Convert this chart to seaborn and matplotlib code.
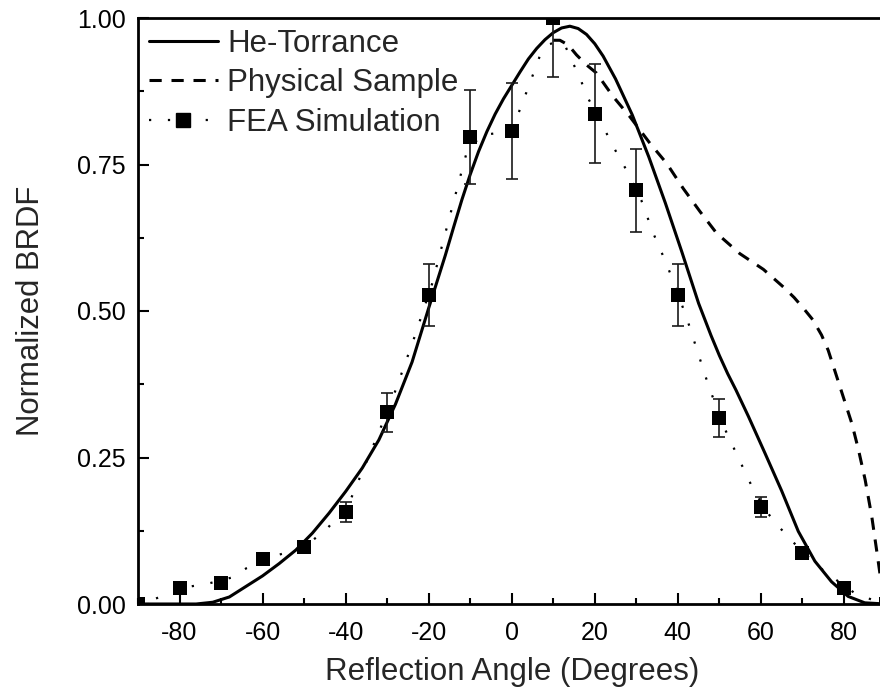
import matplotlib
matplotlib.use('Agg')
import matplotlib.pyplot as plt
from matplotlib.lines import Line2D
from matplotlib.ticker import MultipleLocator, FormatStrFormatter
import seaborn as sns

# He-Torrance model curve
ht_x = [-90, -80, -76, -72, -68, -64, -60, -56, -52, -48, -44, -40, -36, -32, -28, -24,
        -20, -16, -14, -12, -10, -8, -6, -4, -2, 0, 2, 4, 6, 8, 10, 12, 14, 16, 18, 20,
        22, 25, 29, 33, 37, 41, 45, 48, 50, 52, 54, 57, 61, 65, 69, 73, 77, 81, 85, 90]
ht_y = [0.0, 0.0, 0.0, 0.003, 0.012, 0.030, 0.048, 0.069, 0.092, 0.121, 0.155, 0.192,
        0.232, 0.280, 0.341, 0.413, 0.505, 0.595, 0.643, 0.69, 0.733, 0.772, 0.806, 0.836,
        0.862, 0.885, 0.908, 0.93, 0.948, 0.963, 0.975, 0.983, 0.986, 0.982, 0.972, 0.956,
        0.935, 0.896, 0.835, 0.763, 0.684, 0.60, 0.513, 0.458, 0.424, 0.393, 0.365, 0.320,
        0.257, 0.193, 0.124, 0.073, 0.038, 0.013, 0.002, 0.0]

# physical sample measurement (left half lies under the model curve)
ps_x = [10, 11.6, 13.6, 15.6, 18, 20.4, 24.4, 28.4, 33.3, 37.3, 41.3, 45.3, 49.3, 54.9,
        60.6, 65.4, 68, 70.2, 72.5, 74.6, 76.2, 77.8, 79.8, 81.9, 83.5, 85.1, 86.7, 87.9,
        89, 90]
ps_y = [0.962, 0.962, 0.954, 0.937, 0.92, 0.906, 0.866, 0.832, 0.786, 0.752, 0.709, 0.67,
        0.633, 0.598, 0.571, 0.541, 0.523, 0.505, 0.485, 0.459, 0.433, 0.398, 0.354, 0.308,
        0.263, 0.212, 0.149, 0.09, 0.035, 0.0]

# smoothed FEA curve (dotted)
fc_x = [-90, -87.7, -83.6, -77.3, -73, -67.5, -63.9, -57.1, -53.1, -47.9, -44.5, -39,
        -35.8, -32.6, -29, -26.2, -23.4, -19.2, -16.1, -12.9, -10.8, -7.3, -3.1, 1.0,
        3.9, 6.7, 9, 11, 12.9, 14.6, 16.4, 17.8, 21.6, 25.4, 27.5, 31.2, 34.0, 37.3, 40,
        42.5, 45, 47.5, 51.3, 54.8, 58.4, 62.0, 64.7, 67.4, 72.2, 75.4, 82.7, 86.5, 90]
fc_y = [0.0, 0.004, 0.015, 0.03, 0.035, 0.045, 0.061, 0.082, 0.09, 0.109, 0.128, 0.175,
        0.229, 0.283, 0.345, 0.40, 0.456, 0.546, 0.63, 0.716, 0.772, 0.80, 0.804, 0.826,
        0.88, 0.934, 0.955, 0.96, 0.952, 0.925, 0.899, 0.871, 0.82, 0.768, 0.742, 0.689,
        0.634, 0.58, 0.53, 0.48, 0.425, 0.37, 0.299, 0.246, 0.192, 0.152, 0.129, 0.108,
        0.075, 0.055, 0.018, 0.008, 0.0]

# FEA simulation points with error bars
fea_x = [-90, -80, -70, -60, -50, -40, -30, -20, -10, 0, 10, 20, 30, 40, 50, 60, 70, 80, 90]
fea_y = [0.0, 0.028, 0.036, 0.077, 0.098, 0.157, 0.327, 0.527, 0.797, 0.807, 1.0, 0.837,
         0.706, 0.527, 0.317, 0.166, 0.087, 0.028, 0.0]
fea_err = [0.0, 0.0, 0.0, 0.0, 0.0, 0.017, 0.033, 0.053, 0.08, 0.082, 0.10, 0.084,
           0.071, 0.053, 0.032, 0.017, 0.0, 0.0, 0.0]

sns.set_style('ticks')
plt.rcParams['font.family'] = ['Liberation Sans', 'DejaVu Sans']
plt.rcParams['axes.unicode_minus'] = False

fig = plt.figure(figsize=(8.8, 6.96), dpi=100)
ax = fig.add_axes([138 / 880, 92 / 696, 747.5 / 880, 586 / 696])

sns.lineplot(x=fc_x, y=fc_y, ax=ax, sort=False, color='black', lw=1.6,
             linestyle=(0, (1, 7.5)), zorder=2)
sns.lineplot(x=ps_x, y=ps_y, ax=ax, sort=False, color='black', lw=2.2,
             linestyle=(0, (4, 3.2)), zorder=3)
sns.lineplot(x=ht_x, y=ht_y, ax=ax, sort=False, color='black', lw=2.2, zorder=4)
ax.errorbar(fea_x, fea_y, yerr=fea_err, fmt='none', ecolor='#1a1a1a', elinewidth=1.2,
            capsize=4, capthick=1.2, zorder=5)
sns.scatterplot(x=fea_x, y=fea_y, ax=ax, marker='s', s=90, color='black',
                edgecolor='black', linewidth=0, zorder=6)

ax.set_xlim(-90, 90)
ax.set_ylim(0, 1)
ax.xaxis.set_minor_locator(MultipleLocator(10))
ax.yaxis.set_major_locator(MultipleLocator(0.25))
ax.yaxis.set_minor_locator(MultipleLocator(0.125))
ax.yaxis.set_major_formatter(FormatStrFormatter('%.2f'))
ax.set_xticks([-80, -60, -40, -20, 0, 20, 40, 60, 80])
ax.tick_params(which='both', direction='in', width=1.5, labelsize=18, colors='black')
ax.tick_params(which='major', length=8)
ax.tick_params(which='minor', length=4)
ax.tick_params(axis='x', pad=12)
ax.tick_params(axis='y', pad=9)
for side in ['left', 'bottom', 'top']:
    ax.spines[side].set_linewidth(2)
    ax.spines[side].set_color('black')
ax.spines['right'].set_visible(False)

ax.set_xlabel('Reflection Angle (Degrees)', fontsize=22.5, labelpad=9)
ax.set_ylabel('Normalized BRDF', fontsize=22.4, labelpad=22)

handles = [
    Line2D([], [], color='black', lw=2.2),
    Line2D([], [], color='black', lw=2.2, linestyle=(0, (4, 3.2))),
    Line2D([], [], color='black', lw=1.6, linestyle=(0, (1, 7.5)), marker='s',
           markersize=9.5),
]
ax.legend(handles, ['He-Torrance', 'Physical Sample', 'FEA Simulation'],
          loc='upper left', fontsize=22.5, frameon=False, handlelength=2.2,
          handletextpad=0.3, labelspacing=0.3, borderaxespad=0.1, borderpad=0.25)

fig.savefig('out.png', dpi=100)
